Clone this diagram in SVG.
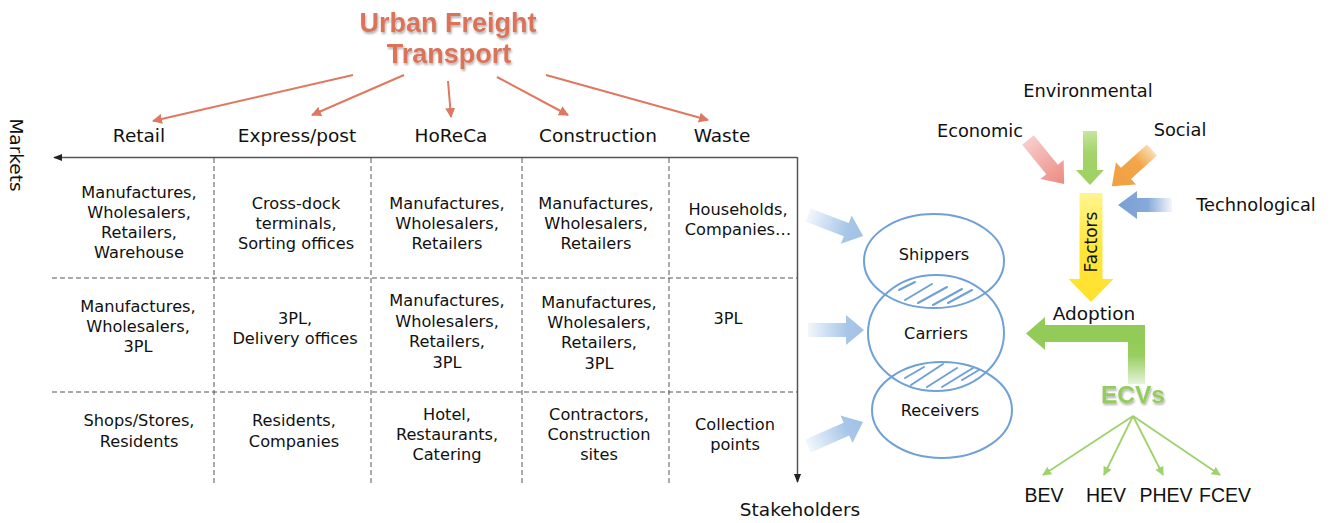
<svg xmlns="http://www.w3.org/2000/svg" width="1333" height="523" viewBox="0 0 1333 523">
<style>
  .t{font-family:"DejaVu Sans",sans-serif;fill:#111;text-anchor:middle}
  .cell{font-size:16.2px}
  .mk{font-size:18.5px}
  .fac{font-size:17.8px}
  .title{font-family:"Liberation Sans",Arial,sans-serif;font-weight:bold;font-size:27px;fill:#d9735a;text-anchor:middle}
  .ev{font-family:"Liberation Sans",Arial,sans-serif;font-size:19.5px;fill:#111;text-anchor:middle}
  .org{stroke:#df7860;stroke-width:2;fill:none;marker-end:url(#mo)}
  .grn{stroke:#9fd16c;stroke-width:1.8;fill:none;marker-end:url(#mg)}
  .dash{stroke:#555;stroke-width:1;stroke-dasharray:5 3;fill:none}
  .axis{stroke:#555;stroke-width:1.5;fill:none}
  .ell{fill:none;stroke:#6fa0d8;stroke-width:2}
  .hatch{stroke:#6fa0d8;stroke-width:2;stroke-linecap:round}
</style>
<defs>
  <marker id="mo" viewBox="0 0 10 10" refX="9" refY="5" markerWidth="5" markerHeight="5" orient="auto" markerUnits="strokeWidth">
    <path d="M0,0 L10,5 L0,10 z" fill="#df7860"/>
  </marker>
  <marker id="mg" viewBox="0 0 10 10" refX="9" refY="5" markerWidth="5" markerHeight="5" orient="auto" markerUnits="strokeWidth">
    <path d="M0,0 L10,5 L0,10 z" fill="#9fd16c"/>
  </marker>
  <marker id="mk" viewBox="0 0 10 10" refX="9" refY="5" markerWidth="6" markerHeight="6" orient="auto" markerUnits="strokeWidth">
    <path d="M0,1 L10,5 L0,9 z" fill="#222"/>
  </marker>
  <linearGradient id="gBlue" x1="0" y1="0" x2="1" y2="0">
    <stop offset="0" stop-color="#f2f7fc"/>
    <stop offset="0.7" stop-color="#a7c6e8"/>
    <stop offset="1" stop-color="#a2c2e6"/>
  </linearGradient>
  <linearGradient id="gRed" x1="0" y1="0" x2="1" y2="0">
    <stop offset="0" stop-color="#f7cccb"/>
    <stop offset="1" stop-color="#ec8a80"/>
  </linearGradient>
  <linearGradient id="gEnv" x1="0" y1="0" x2="1" y2="0">
    <stop offset="0" stop-color="#c6e69e"/>
    <stop offset="0.4" stop-color="#a4d46a"/>
    <stop offset="1" stop-color="#9ed062"/>
  </linearGradient>
  <linearGradient id="gSoc" x1="0" y1="0" x2="1" y2="0">
    <stop offset="0" stop-color="#fbdcb0"/>
    <stop offset="0.35" stop-color="#f2a54a"/>
    <stop offset="1" stop-color="#f0a040"/>
  </linearGradient>
  <linearGradient id="gTech" x1="0" y1="0" x2="1" y2="0">
    <stop offset="0" stop-color="#f4f7fc"/>
    <stop offset="0.45" stop-color="#86a9d9"/>
    <stop offset="1" stop-color="#7a9fd4"/>
  </linearGradient>
  <linearGradient id="gFac" x1="0" y1="0" x2="1" y2="0">
    <stop offset="0" stop-color="#fff58f"/>
    <stop offset="0.5" stop-color="#ffe63a"/>
    <stop offset="1" stop-color="#ffe02e"/>
  </linearGradient>
  <linearGradient id="gL" gradientUnits="userSpaceOnUse" x1="0" y1="340" x2="0" y2="384">
    <stop offset="0" stop-color="#92cb58"/>
    <stop offset="0.35" stop-color="#98ce60"/>
    <stop offset="1" stop-color="#e6f3d8"/>
  </linearGradient>
  <filter id="sh" x="-10%" y="-10%" width="120%" height="130%">
    <feDropShadow dx="1" dy="2" stdDeviation="1.2" flood-color="#000" flood-opacity="0.3"/>
  </filter>
</defs>

<g id="title">
  <text class="title" x="448" y="32" filter="url(#sh)">Urban Freight</text>
  <text class="title" x="449" y="63" filter="url(#sh)">Transport</text>
</g>

<g id="connectors">
  <line class="org" x1="353" y1="75" x2="153" y2="121"/>
  <line class="org" x1="404" y1="75" x2="312" y2="115"/>
  <line class="org" x1="448" y1="81" x2="451" y2="117"/>
  <line class="org" x1="497" y1="77" x2="568" y2="115"/>
  <line class="org" x1="546" y1="75" x2="708" y2="120"/>
  <line class="grn" x1="1133" y1="416" x2="1043" y2="475"/>
  <line class="grn" x1="1133" y1="416" x2="1104" y2="475"/>
  <line class="grn" x1="1133" y1="416" x2="1163" y2="475"/>
  <line class="grn" x1="1133" y1="416" x2="1220" y2="475"/>
</g>

<g id="markets">
  <text class="t mk" x="139" y="142">Retail</text>
  <text class="t mk" x="297" y="142">Express/post</text>
  <text class="t mk" x="451" y="142">HoReCa</text>
  <text class="t mk" x="598" y="142">Construction</text>
  <text class="t mk" x="722" y="142">Waste</text>
</g>

<g id="axes">
  <line class="axis" x1="797" y1="157.5" x2="54" y2="157.5" marker-end="url(#mk)"/>
  <line class="axis" x1="797.5" y1="157" x2="797.5" y2="482" marker-end="url(#mk)"/>
  <text class="t mk" transform="translate(10,155) rotate(90)" x="0" y="0">Markets</text>
  <text class="t mk" x="800" y="516">Stakeholders</text>
</g>

<g id="grid">
  <line class="dash" x1="214" y1="158" x2="214" y2="485"/>
  <line class="dash" x1="371" y1="158" x2="371" y2="485"/>
  <line class="dash" x1="522" y1="158" x2="522" y2="485"/>
  <line class="dash" x1="669" y1="158" x2="669" y2="485"/>
  <line class="dash" x1="52" y1="278" x2="797" y2="278"/>
  <line class="dash" x1="52" y1="392" x2="797" y2="392"/>
</g>

<g id="cells">
  <text class="t cell"><tspan x="139" y="198">Manufactures,</tspan><tspan x="139" y="218">Wholesalers,</tspan><tspan x="139" y="238">Retailers,</tspan><tspan x="139" y="258">Warehouse</tspan></text>
  <text class="t cell"><tspan x="296" y="209">Cross-dock</tspan><tspan x="296" y="229">terminals,</tspan><tspan x="296" y="249">Sorting offices</tspan></text>
  <text class="t cell"><tspan x="447" y="209">Manufactures,</tspan><tspan x="447" y="229">Wholesalers,</tspan><tspan x="447" y="249">Retailers</tspan></text>
  <text class="t cell"><tspan x="596" y="209">Manufactures,</tspan><tspan x="596" y="229">Wholesalers,</tspan><tspan x="596" y="249">Retailers</tspan></text>
  <text class="t cell"><tspan x="738" y="215">Households,</tspan><tspan x="738" y="235">Companies…</tspan></text>

  <text class="t cell"><tspan x="138" y="312">Manufactures,</tspan><tspan x="138" y="332">Wholesalers,</tspan><tspan x="138" y="352">3PL</tspan></text>
  <text class="t cell"><tspan x="295" y="324">3PL,</tspan><tspan x="295" y="344">Delivery offices</tspan></text>
  <text class="t cell"><tspan x="447" y="306">Manufactures,</tspan><tspan x="447" y="327">Wholesalers,</tspan><tspan x="447" y="347">Retailers,</tspan><tspan x="447" y="368">3PL</tspan></text>
  <text class="t cell"><tspan x="599" y="308">Manufactures,</tspan><tspan x="599" y="328">Wholesalers,</tspan><tspan x="599" y="348">Retailers,</tspan><tspan x="599" y="369">3PL</tspan></text>
  <text class="t cell"><tspan x="728" y="324">3PL</tspan></text>

  <text class="t cell"><tspan x="139" y="426">Shops/Stores,</tspan><tspan x="139" y="447">Residents</tspan></text>
  <text class="t cell"><tspan x="294" y="426">Residents,</tspan><tspan x="294" y="447">Companies</tspan></text>
  <text class="t cell"><tspan x="447" y="420">Hotel,</tspan><tspan x="447" y="440">Restaurants,</tspan><tspan x="447" y="460">Catering</tspan></text>
  <text class="t cell"><tspan x="599" y="420">Contractors,</tspan><tspan x="599" y="440">Construction</tspan><tspan x="599" y="460">sites</tspan></text>
  <text class="t cell"><tspan x="735" y="430">Collection</tspan><tspan x="735" y="450">points</tspan></text>
</g>

<g id="stakeholder-arrows">
  <polygon fill="url(#gBlue)" transform="translate(808,215) rotate(20.9)" points="0,-7 41,-7 41,-15 59,0 41,15 41,7 0,7"/>
  <polygon fill="url(#gBlue)" transform="translate(808,330)" points="0,-7 38,-7 38,-15 56,0 38,15 38,7 0,7"/>
  <polygon fill="url(#gBlue)" transform="translate(808,446) rotate(-23.6)" points="0,-7 42,-7 42,-15 60,0 42,15 42,7 0,7"/>
</g>

<g id="shippers">
  <ellipse class="ell" cx="934" cy="261" rx="70" ry="47"/>
  <text class="t cell" x="934" y="260">Shippers</text>
</g>
<g id="carriers">
  <ellipse class="ell" cx="936" cy="333" rx="68" ry="58"/>
  <text class="t cell" x="936" y="339">Carriers</text>
</g>
<g id="receivers">
  <ellipse class="ell" cx="942" cy="410" rx="70" ry="48"/>
  <text class="t cell" x="940" y="416">Receivers</text>
</g>
<g id="hatching">
  <line class="hatch" x1="899" y1="290" x2="915" y2="282"/>
  <line class="hatch" x1="905" y1="300" x2="932" y2="284"/>
  <line class="hatch" x1="918" y1="303" x2="947" y2="287"/>
  <line class="hatch" x1="933" y1="305" x2="962" y2="289"/>
  <line class="hatch" x1="948" y1="303" x2="972" y2="290"/>
  <line class="hatch" x1="905" y1="378" x2="924" y2="367"/>
  <line class="hatch" x1="911" y1="385" x2="943" y2="364"/>
  <line class="hatch" x1="927" y1="387" x2="957" y2="368"/>
  <line class="hatch" x1="942" y1="387" x2="973" y2="368"/>
  <line class="hatch" x1="962" y1="380" x2="979" y2="370"/>
</g>

<g id="factors">
  <text class="t fac" x="1088" y="97">Environmental</text>
  <text class="t fac" x="980" y="137">Economic</text>
  <text class="t fac" x="1180" y="136">Social</text>
  <text class="t fac" x="1256" y="211">Technological</text>
  <polygon fill="url(#gRed)" transform="translate(1028,140) rotate(50.7)" points="0,-7.5 38,-7.5 38,-15 57,0 38,15 38,7.5 0,7.5"/>
  <polygon fill="url(#gEnv)" transform="translate(1090,131) rotate(90)" points="0,-7 39,-7 39,-14 54,0 39,14 39,7 0,7"/>
  <polygon fill="url(#gSoc)" transform="translate(1152,150) rotate(138)" points="0,-7.5 35,-7.5 35,-15 54,0 35,15 35,7.5 0,7.5"/>
  <polygon fill="url(#gTech)" transform="translate(1172,205) rotate(180)" points="0,-7 35,-7 35,-14 54,0 35,14 35,7 0,7"/>
  <polygon fill="url(#gFac)" transform="translate(1091,193) rotate(90)" points="0,-11.5 86,-11.5 86,-22.5 109,0 86,22.5 86,11.5 0,11.5"/>
  <text class="t" font-size="17" transform="translate(1097,242) rotate(-90)" x="0" y="0">Factors</text>
</g>

<g id="adoption">
  <text class="t mk" x="1094" y="320">Adoption</text>
  <polygon fill="url(#gL)" points="1128,384 1128,342 1045,342 1045,350 1026,333.5 1045,317 1045,325 1145,325 1145,384"/>
</g>

<g id="ecvs">
  <text x="1133" y="403" font-family="'Liberation Sans',Arial,sans-serif" font-weight="bold" font-size="24.5" fill="#93cc5c" text-anchor="middle" filter="url(#sh)">ECVs</text>
</g>

<g id="vehicles">
  <text class="ev" x="1044" y="502">BEV</text>
  <text class="ev" x="1106" y="502">HEV</text>
  <text class="ev" x="1166" y="502">PHEV</text>
  <text class="ev" x="1225" y="502">FCEV</text>
</g>
</svg>
